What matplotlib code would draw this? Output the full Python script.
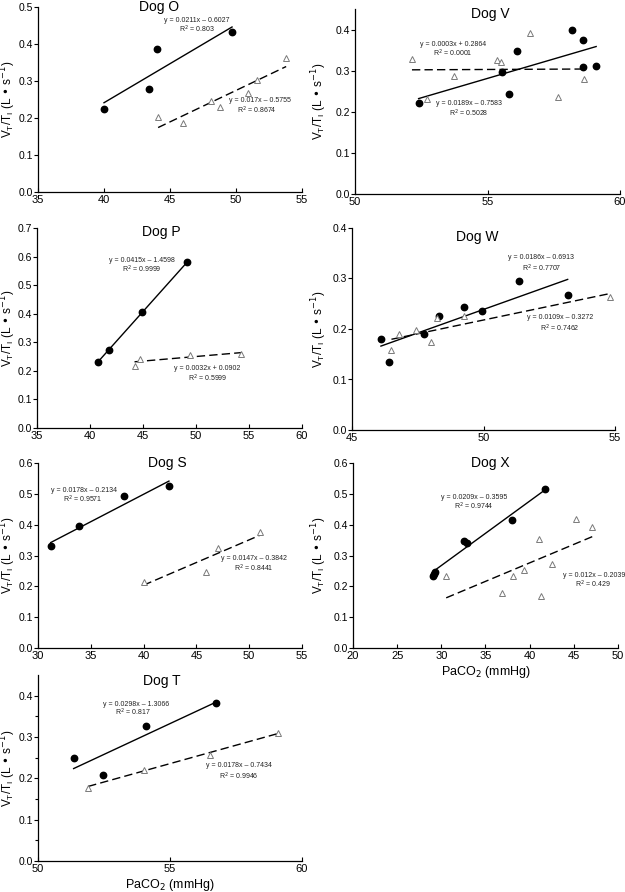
import numpy as np
import matplotlib
matplotlib.use('Agg')
import matplotlib.pyplot as plt

plt.rcParams['font.family'] = ['Liberation Sans', 'DejaVu Sans']

W_PX, H_PX = 625, 892

# ---- data (circles = filled series, triangles = open series)
o_cx = [40.0, 43.4, 44.0, 49.7]
o_cy = [0.225, 0.279, 0.387, 0.432]
o_tx = [44.1, 46.0, 48.1, 48.8, 50.9, 51.6, 53.8]
o_ty = [0.203, 0.186, 0.246, 0.229, 0.268, 0.302, 0.362]
o_fit = [(0.0211, -0.6027, 0.803), (0.017, -0.5755, 0.8674)]

v_cx = [52.4, 55.55, 55.8, 56.1, 58.2, 58.6, 58.6, 59.1]
v_cy = [0.222, 0.296, 0.244, 0.347, 0.400, 0.374, 0.309, 0.311]
v_tx = [52.15, 52.7, 53.75, 55.35, 55.5, 56.6, 57.65, 58.65]
v_ty = [0.328, 0.231, 0.288, 0.325, 0.321, 0.392, 0.236, 0.279]
v_fit = [(0.0189, -0.7583, 0.5028), (0.0003, 0.2864, 0.0001)]

p_cx = [40.75, 41.8, 44.9, 49.15]
p_cy = [0.230, 0.274, 0.406, 0.580]
p_tx = [44.2, 44.75, 49.45, 54.25]
p_ty = [0.216, 0.243, 0.256, 0.259]
p_fit = [(0.0415, -1.4598, 0.9999), (0.0032, 0.0902, 0.5999)]

w_cx = [46.1, 46.4, 47.75, 48.3, 49.25, 49.95, 51.35, 53.2]
w_cy = [0.181, 0.134, 0.191, 0.225, 0.244, 0.235, 0.295, 0.268]
w_tx = [46.5, 46.8, 47.45, 48.0, 48.25, 49.25, 54.8]
w_ty = [0.158, 0.190, 0.198, 0.175, 0.222, 0.226, 0.263]
w_fit = [(0.0186, -0.6913, 0.7707), (0.0109, -0.3272, 0.7462)]

s_cx = [31.2, 33.9, 38.15, 42.4]
s_cy = [0.331, 0.395, 0.492, 0.527]
s_tx = [40.0, 45.9, 47.0, 51.05]
s_ty = [0.214, 0.248, 0.324, 0.376]
s_fit = [(0.0178, -0.2134, 0.9571), (0.0147, -0.3842, 0.8441)]

x_cx = [29.05, 29.15, 29.3, 32.6, 32.85, 38.05, 41.7]
x_cy = [0.232, 0.240, 0.246, 0.346, 0.341, 0.416, 0.517]
x_tx = [30.55, 36.9, 38.1, 39.35, 41.05, 41.3, 42.55, 45.3, 47.1]
x_ty = [0.235, 0.178, 0.232, 0.253, 0.353, 0.169, 0.273, 0.420, 0.391]
x_fit = [(0.0209, -0.3595, 0.9744), (0.012, -0.2039, 0.429)]

t_cx = [51.35, 52.45, 54.1, 56.75]
t_cy = [0.249, 0.209, 0.327, 0.382]
t_tx = [51.9, 54.0, 56.5, 59.1]
t_ty = [0.176, 0.221, 0.257, 0.309]
t_fit = [(0.0298, -1.3066, 0.817), (0.0178, -0.7434, 0.9946)]

titles = ['Dog O', 'Dog V', 'Dog P', 'Dog W', 'Dog S', 'Dog X', 'Dog T']


def eq_text(slope, icpt, r2):
    sign = '+' if icpt >= 0 else '\u2013'
    return 'y = %gx %s %g' % (slope, sign, abs(icpt)), 'R$^2$ = %g' % r2


def panel(rect, title, title_pos, cx, cy, tx, ty, fits, xlim, xticks, ylim, yticks,
          ann_pos, xlabel=False, minor=False):
    l, r, t, b = rect
    ax = fig.add_axes([l / W_PX, 1 - b / H_PX, (r - l) / W_PX, (b - t) / H_PX])
    ax.set_xlim(*xlim)
    ax.set_ylim(*ylim)
    ax.set_xticks(xticks)
    ax.set_yticks(yticks)
    ax.set_yticklabels(['%.1f' % v for v in yticks])
    if minor:
        ax.set_yticks(np.arange(0.05, ylim[1], 0.1), minor=True)
        ax.tick_params(axis='y', which='minor', direction='out', length=2.5, width=0.8)
    for s in ['top', 'right']:
        ax.spines[s].set_visible(False)
    for s in ['left', 'bottom']:
        ax.spines[s].set_linewidth(0.9)
    ax.tick_params(axis='y', direction='out', length=3, width=0.8, labelsize=7.5, pad=0.5)
    ax.tick_params(axis='x', direction='in', length=3, width=0.8, labelsize=8, pad=2)
    ax.patch.set_alpha(0)

    # regression lines over each series' range
    for (slope, icpt, _), xs, ls in [(fits[0], cx, '-'), (fits[1], tx, (0, (6, 3)))]:
        xx = np.array([min(xs), max(xs)])
        ax.plot(xx, slope * xx + icpt, color='black', lw=1.0, linestyle=ls, zorder=2)

    ax.plot(cx, cy, 'o', color='black', markersize=4.6, zorder=3, clip_on=False)
    ax.plot(tx, ty, '^', markerfacecolor='white', markeredgecolor='#7a7a7a',
            markeredgewidth=0.7, markersize=5, zorder=3, clip_on=False)

    for (slope, icpt, r2), (ex, ey, rx, ry) in zip(fits, ann_pos):
        e, rr = eq_text(slope, icpt, r2)
        ax.text(ex, ey, e, fontsize=5, ha='center', va='center', color='#222222')
        ax.text(rx, ry, rr, fontsize=5, ha='center', va='center', color='#222222')

    ax.text(title_pos[0], title_pos[1], title, transform=ax.transAxes,
            fontsize=10, ha='center', va='center')
    ax.set_ylabel('V$_\\mathregular{T}$/T$_\\mathregular{I}$ (L \u2022 s$^{-1}$)',
                  fontsize=8.5)
    # baseline of the rotated label: fixed pixel column per figure column
    base = 18 if l < 100 else 329
    ax.yaxis.set_label_coords(-(l - base) / (r - l), 0.5)
    if xlabel:
        ax.set_xlabel('PaCO$_2$ (mmHg)', fontsize=9, labelpad=2)
    return ax


fig = plt.figure(figsize=(W_PX / 100, H_PX / 100), dpi=100)

panel((38, 302, 7, 192), titles[0], (0.46, 1.0), o_cx, o_cy, o_tx, o_ty, o_fit,
      (35, 55), [35, 40, 45, 50, 55], (0, 0.5), np.arange(0, 0.51, 0.1),
      [(47.0, 0.463, 47.0, 0.440), (51.8, 0.247, 51.6, 0.221)])

panel((355, 620, 9, 194), titles[1], (0.51, 0.975), v_cx, v_cy, v_tx, v_ty, v_fit,
      (50, 60), [50, 55, 60], (0, 0.45), np.arange(0, 0.41, 0.1),
      [(54.3, 0.219, 54.3, 0.196), (53.7, 0.363, 53.7, 0.341)])

panel((37, 302, 228, 428), titles[2], (0.47, 0.98), p_cx, p_cy, p_tx, p_ty, p_fit,
      (35, 60), [35, 40, 45, 50, 55, 60], (0, 0.7), np.arange(0, 0.71, 0.1),
      [(44.9, 0.585, 44.9, 0.555), (51.1, 0.209, 51.1, 0.175)])

panel((352, 615, 228, 430), titles[3], (0.475, 0.955), w_cx, w_cy, w_tx, w_ty, w_fit,
      (45, 55), [45, 50, 55], (0, 0.4), np.arange(0, 0.41, 0.1),
      [(52.2, 0.342, 52.2, 0.320), (52.9, 0.223, 52.9, 0.201)])

panel((38, 302, 463, 648), titles[4], (0.49, 1.0), s_cx, s_cy, s_tx, s_ty, s_fit,
      (30, 55), [30, 35, 40, 45, 50, 55], (0, 0.6), np.arange(0, 0.61, 0.1),
      [(34.4, 0.511, 34.2, 0.481), (50.5, 0.289, 50.4, 0.258)])

panel((353, 618, 463, 648), titles[5], (0.52, 1.0), x_cx, x_cy, x_tx, x_ty, x_fit,
      (20, 50), [20, 25, 30, 35, 40, 45, 50], (0, 0.6), np.arange(0, 0.61, 0.1),
      [(33.7, 0.487, 33.7, 0.459), (47.3, 0.235, 47.2, 0.207)], xlabel=True)

panel((38, 302, 675, 861), titles[6], (0.47, 0.97), t_cx, t_cy, t_tx, t_ty, t_fit,
      (50, 60), [50, 55, 60], (0, 0.45), np.arange(0, 0.41, 0.1),
      [(53.7, 0.379, 53.6, 0.359), (57.6, 0.230, 57.6, 0.206)], xlabel=True, minor=True)

fig.savefig('out.png', dpi=100, facecolor='white')
